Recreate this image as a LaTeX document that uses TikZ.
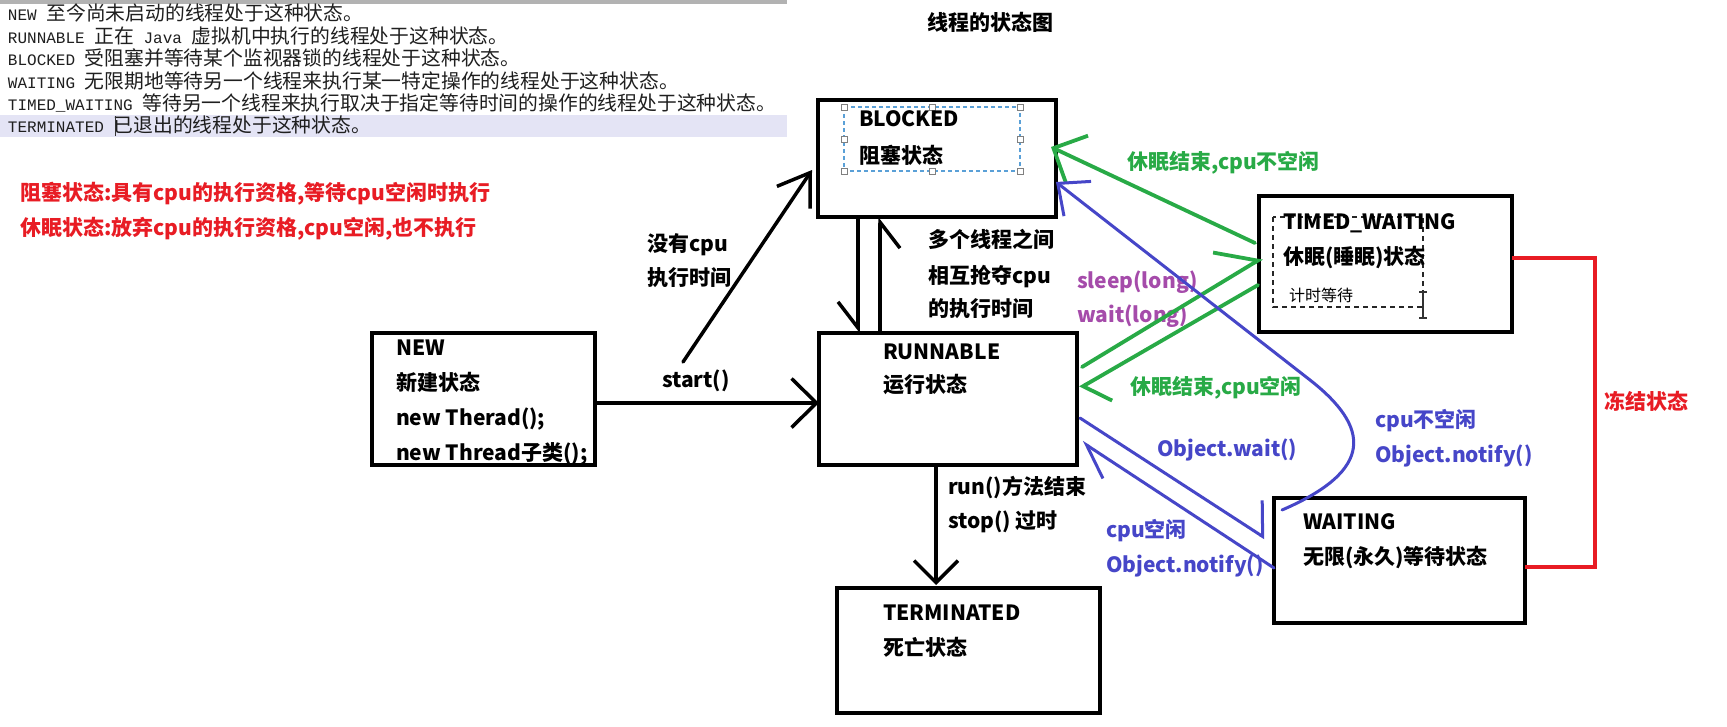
\documentclass[tikz,border=0pt]{standalone}
\usepackage{fontspec}
\usetikzlibrary{arrows.meta,calc}
\newfontfamily\dgfont{Noto Sans CJK SC}
\newfontfamily\monolat{Liberation Mono}
\newfontfamily\monocjk{Noto Sans CJK SC}
\definecolor{gr}{RGB}{40,170,70}
\definecolor{bl}{RGB}{70,70,200}
\definecolor{pu}{RGB}{165,75,170}
\definecolor{rd}{RGB}{232,28,36}
\definecolor{hl}{RGB}{228,228,245}
\definecolor{selblue}{RGB}{90,160,215}
\newcommand\mlat[1]{{\monolat\fontsize{16}{16}\selectfont #1}}
\newcommand\mcjk[1]{{\monocjk\fontsize{19.8}{19.8}\selectfont #1}}
\tikzset{
  box/.style={draw=black, line width=4pt, rectangle, inner sep=0pt, outer sep=0pt},
  lbl/.style={anchor=west, inner sep=0pt, outer sep=0pt, font=\dgfont\bfseries\fontsize{21}{24}\selectfont, text height=16pt, text depth=1pt},
  mono/.style={anchor=west, inner sep=0pt, outer sep=0pt, text=black!88, text height=12pt, text depth=0pt},
  blk/.style={draw=black, line width=3.5pt, line cap=round},
  grn/.style={draw=gr, line width=3.8pt, line cap=round},
  blu/.style={draw=bl, line width=3pt, line cap=round},
  handle/.style={draw=gray, fill=white, line width=1pt, rectangle, minimum size=6pt, inner sep=0pt},
  tipA/.tip={Straight Barb[length=25pt,width=49pt,line width=3.5pt]},
  tipB/.tip={Straight Barb[length=30pt,width=40pt,line width=3.5pt]},
  tipC/.tip={Straight Barb[length=22pt,width=44pt,line width=3.5pt]},
  tipH/.tip={Straight Barb[length=26pt,width=40pt,line width=3.5pt,right]},
  tipG/.tip={Straight Barb[length=26pt,width=52pt,line width=3.8pt]},
  tipGL/.tip={Straight Barb[length=34pt,width=60pt,line width=3.8pt,left]},
  tipGR/.tip={Straight Barb[length=18pt,width=54pt,line width=3.8pt,left]},
  tipU/.tip={Straight Barb[length=25pt,width=44pt,line width=3pt]},
  tipUL/.tip={Straight Barb[length=20pt,width=60pt,line width=3pt,left]},
  tipUR/.tip={Straight Barb[length=32pt,width=38pt,line width=3pt,left]},
}
\begin{document}
\begin{tikzpicture}[x=1pt,y=-1pt]
\useasboundingbox (0,0) rectangle (1727,726);
\fill[white] (0,0) rectangle (1727,726);

% ---- left text panel ----
\fill[gray!60] (0,0) rectangle (787,4);
\fill[hl] (0,115) rectangle (787,137);
\node[mono] (m1) at (8,14) {\mlat{NEW }\mcjk{至今尚未启动的线程处于这种状态。}};
\node[mono] (m2) at (8,37) {\mlat{RUNNABLE }\mcjk{正在}\mlat{ Java }\mcjk{虚拟机中执行的线程处于这种状态。}};
\node[mono] (m3) at (8,59) {\mlat{BLOCKED }\mcjk{受阻塞并等待某个监视器锁的线程处于这种状态。}};
\node[mono] (m4) at (8,82) {\mlat{WAITING }\mcjk{无限期地等待另一个线程来执行某一特定操作的线程处于这种状态。}};
\node[mono] (m5) at (8,104) {\mlat{TIMED\_WAITING }\mcjk{等待另一个线程来执行取决于指定等待时间的操作的线程处于这种状态。}};
\node[mono] (m6) at (8,126) {\mlat{TERMINATED }\mcjk{已退出的线程处于这种状态。}};
\draw[line width=1pt, black!80] (115,116) -- (115,136);

\node[lbl, text=rd] (r1) at (20,193) {阻塞状态:具有cpu的执行资格,等待cpu空闲时执行};
\node[lbl, text=rd] (r2) at (20,228) {休眠状态:放弃cpu的执行资格,cpu空闲,也不执行};

\node[lbl, anchor=center] (title) at (990,23) {线程的状态图};

% ---- boxes ----
\node[box, minimum width=238pt, minimum height=117pt] (blocked) at (937,158.5) {};
\node[box, minimum width=253pt, minimum height=136pt] (timed) at (1385.5,264) {};
\node[box, minimum width=223pt, minimum height=132pt] (new) at (483.5,399) {};
\node[box, minimum width=258pt, minimum height=132pt] (runnable) at (948,399) {};
\node[box, minimum width=263pt, minimum height=125pt] (terminated) at (968.5,650.5) {};
\node[box, minimum width=251pt, minimum height=125pt] (waiting) at (1399.5,560.5) {};

% selection frame in BLOCKED
\draw[selblue, line width=1.2pt, dash pattern=on 4pt off 3pt] (844,107) rectangle (1020,171);
\foreach \p in {(844,107),(932,107),(1020,107),(844,139),(1020,139),(844,171),(932,171),(1020,171)}
  \node[handle] at \p {};
% dashed frame in TIMED_WAITING
\draw[black!85, line width=1.5pt, dash pattern=on 5pt off 4pt] (1273,217) rectangle (1423,307);
\draw[black!80, line width=1.2pt] (1423,292) -- (1423,318) (1419,292) -- (1427,292) (1419,318) -- (1427,318);

% ---- box texts ----
\node[lbl] (tb1) at (859,119) {BLOCKED};
\node[lbl] (tb2) at (859,156) {阻塞状态};
\node[lbl] (tt1) at (1283,222) {TIMED\_WAITING};
\node[lbl] (tt2) at (1283,257) {休眠(睡眠)状态};
\node[lbl, font=\dgfont\fontsize{16}{18}\selectfont] (tt3) at (1289,294) {计时等待};
\node[lbl] (tn1) at (396,348) {NEW};
\node[lbl] (tn2) at (396,383) {新建状态};
\node[lbl] (tn3) at (396,418) {new Therad();};
\node[lbl] (tn4) at (396,453) {new Thread子类();};
\node[lbl] (tr1) at (883,352) {RUNNABLE};
\node[lbl] (tr2) at (883,385) {运行状态};
\node[lbl] (tx1) at (883,613) {TERMINATED};
\node[lbl] (tx2) at (883,648) {死亡状态};
\node[lbl] (tw1) at (1303,522) {WAITING};
\node[lbl] (tw2) at (1303,557) {无限(永久)等待状态};

% ---- connector labels ----
\node[lbl] (ls) at (662,380) {start()};
\node[lbl] (ln1) at (647,244) {没有cpu};
\node[lbl] (ln2) at (647,278) {执行时间};
\node[lbl] (lm1) at (928,240) {多个线程之间};
\node[lbl] (lm2) at (928,276) {相互抢夺cpu};
\node[lbl] (lm3) at (928,309) {的执行时间};
\node[lbl] (lt1) at (948,487) {run()方法结束};
\node[lbl] (lt2) at (948,521) {stop() 过时};
\node[lbl, text=gr] (lg1) at (1127,162) {休眠结束,cpu不空闲};
\node[lbl, text=gr] (lg2) at (1130,387) {休眠结束,cpu空闲};
\node[lbl, text=pu] (lp1) at (1077,281) {sleep(long)};
\node[lbl, text=pu] (lp2) at (1077,315) {wait(long)};
\node[lbl, text=bl] (lb1) at (1375,420) {cpu不空闲};
\node[lbl, text=bl] (lb2) at (1375,455) {Object.notify()};
\node[lbl, text=bl] (lb3) at (1157,449) {Object.wait()};
\node[lbl, text=bl] (lb4) at (1106,530) {cpu空闲};
\node[lbl, text=bl] (lb5) at (1106,565) {Object.notify()};
\node[lbl, text=rd] (lr) at (1604,402) {冻结状态};

% ---- connectors ----
\coordinate (nb0) at (683,362);
\draw[blk, -tipA] ($(new.north east)+(0,70)$) -- ($(runnable.north west)+(0,70)$);
\draw[blk, -tipB] (nb0) -- ($(blocked.north west)+(-6,70)$);
\draw[blk, -tipH] ($(blocked.north west)+(40,117)$) -- ($(runnable.north west)+(39,0)$);
\draw[blk, -tipH] ($(runnable.north west)+(61,0)$) -- ($(blocked.north west)+(62,117)$);
\draw[blk, -tipC] ($(runnable.north west)+(117,132)$) -- ($(terminated.north west)+(99,-3)$);

\draw[grn, -tipG] ($(timed.north west)+(-4,47)$) -- ($(blocked.north west)+(233,47)$);
\draw[grn, -tipGL] ($(runnable.north west)+(263,34)$) -- ($(timed.north west)+(3,62)$);
\draw[grn, -tipGR] ($(timed.north west)+(-1,89)$) -- ($(runnable.north west)+(261,55)$);

\draw[blu, -tipU] ($(waiting.north west)+(8,12)$) .. controls (1375,470) and (1370,427) .. (1310,380) -- ($(blocked.north west)+(238,82)$);
\draw[blu, -tipUL] ($(runnable.north west)+(261,85)$) -- ($(waiting.north west)+(-9,40)$);
\draw[blu, -tipUR] ($(waiting.north west)+(0,70)$) -- ($(runnable.north west)+(263,109)$);

\draw[rd, line width=4pt] ($(timed.north east)+(0,62)$) -| (1595,567) -- ($(waiting.north east)+(0,69)$);
\end{tikzpicture}
\end{document}
